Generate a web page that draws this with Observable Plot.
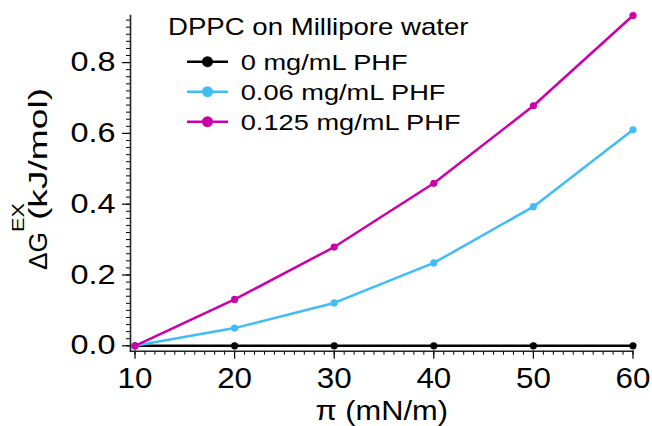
<!DOCTYPE html>
<html><head><meta charset="utf-8">
<script src="https://cdn.jsdelivr.net/npm/d3@7"></script>
<script src="https://cdn.jsdelivr.net/npm/@observablehq/plot@0.6"></script>
<style>body{margin:0;background:#fff}</style>
</head><body><div id="chart"></div>
<script>
// ---- data ----
const pressure = [10, 20, 30, 40, 50, 60];
const seriesNames = ["0 mg/mL PHF", "0.06 mg/mL PHF", "0.125 mg/mL PHF"];
const dG_0 = [0, 0, 0, 0, 0, 0];
const dG_006 = [0, 0.050, 0.121, 0.234, 0.393, 0.610];
const dG_0125 = [0, 0.131, 0.279, 0.459, 0.678, 0.933];
const seriesColors = ["#000000", "#3fbdf7", "#cc00aa"];
const xTicks = [10, 20, 30, 40, 50, 60];
const yTicks = [0, 0.2, 0.4, 0.6, 0.8];
const legendTitle = "DPPC on Millipore water";
const xLabel = "π (mN/m)";
const yLabelMain = "ΔG", yLabelSup = "EX", yLabelUnit = "(kJ/mol)";

const allSeries = [dG_0, dG_006, dG_0125];
const rows = [];
allSeries.forEach((vals, i) => vals.forEach((v, j) => rows.push({series: seriesNames[i], x: pressure[j], y: v})));

const xMinor = d3.range(10, 60.001, 1);
const yMinor = d3.range(0, 0.93, 0.02);
const font = "'Liberation Sans', Arial, Helvetica, sans-serif";

const dataMarks = [];
seriesNames.forEach((s, i) => {
  const d = rows.filter(r => r.series === s);
  dataMarks.push(Plot.line(d, {x: "x", y: "y", stroke: seriesColors[i], strokeWidth: 2.5}));
  dataMarks.push(Plot.dot(d, {x: "x", y: "y", fill: seriesColors[i], r: 3.6}));
});

const plot = Plot.plot({
  width: 652, height: 426,
  marginLeft: 130, marginRight: 19.5, marginTop: 15, marginBottom: 75.3,
  x: {domain: [10, 60], insetLeft: 4.5},
  y: {domain: [0, 0.933], insetBottom: 5.4},
  style: {fontFamily: font, color: "#000", background: "#fff", overflow: "visible"},
  marks: [
    Plot.axisX({ticks: xMinor, tickSize: 4, tickFormat: () => "", label: null, strokeWidth: 1}),
    Plot.axisY({ticks: yMinor, tickSize: 4, tickFormat: () => "", label: null, strokeWidth: 1}),
    Plot.axisX({ticks: xTicks, tickSize: 8, tickPadding: 8, fontSize: 29, tickFormat: d => String(d), label: null, strokeWidth: 1.2}),
    Plot.axisY({ticks: yTicks, tickSize: 8, tickPadding: 7, fontSize: 27, tickFormat: d3.format(".1f"), label: null, strokeWidth: 1.2}),
    Plot.frame({anchor: "left", stroke: "#222", strokeWidth: 1.6}),
    Plot.frame({anchor: "bottom", stroke: "#222", strokeWidth: 1.6}),
    ...dataMarks
  ]
});
document.getElementById("chart").append(plot);

const svg = d3.select(plot);

// widen tick labels to match the reference typeface
function widen(sel, s) {
  sel.each(function () {
    const t = d3.select(this);
    const tr = t.attr("transform") || "";
    const x = t.attr("x"), y = t.attr("y");
    let extra = "";
    if (x != null && !isNaN(+x)) { extra += ` translate(${+x},0)`; t.attr("x", null); }
    if (y != null && !isNaN(+y)) { extra += ` translate(0,${+y})`; t.attr("y", null); }
    t.attr("transform", `${tr}${extra} scale(${s},1)`);
  });
}
widen(svg.selectAll('g[aria-label="y-axis tick label"] text'), 1.2);
widen(svg.selectAll('g[aria-label="x-axis tick label"] text'), 1.08);

function addText(parent, str, x, y, size, sx, anchor) {
  return parent.append("text")
    .attr("transform", `translate(${x},${y}) scale(${sx},1)`)
    .attr("font-size", size).attr("font-family", font)
    .attr("text-anchor", anchor || "start").attr("fill", "#000").text(str);
}

// x label
addText(svg, xLabel, 381.7, 420, 28, 1.1, "middle");

// y label
const yl = svg.append("g").attr("transform", "translate(46.7,270) rotate(-90)")
  .attr("font-family", font).attr("fill", "#000").attr("text-anchor", "start");
yl.append("text").attr("x", 0).attr("y", 0).attr("font-size", 26.5)
  .attr("textLength", 38).attr("lengthAdjust", "spacingAndGlyphs").text(yLabelMain);
yl.append("text").attr("x", 38).attr("y", -22.7).attr("font-size", 17)
  .attr("textLength", 29).attr("lengthAdjust", "spacingAndGlyphs").text(yLabelSup);
yl.append("text").attr("x", 50).attr("y", 0).attr("font-size", 26.5)
  .attr("textLength", 132).attr("lengthAdjust", "spacingAndGlyphs").text(yLabelUnit);

// legend
const lg = svg.append("g").attr("text-anchor", "start");
addText(lg, legendTitle, 168, 35, 23, 1.2);
seriesNames.forEach((s, i) => {
  const cy = 61.7 + 30 * i;
  lg.append("line").attr("x1", 187).attr("x2", 228).attr("y1", cy).attr("y2", cy)
    .attr("stroke", seriesColors[i]).attr("stroke-width", 2.5);
  lg.append("circle").attr("cx", 207.5).attr("cy", cy).attr("r", 5.5).attr("fill", seriesColors[i]);
  addText(lg, s, 240.7, cy + 7.8, 22.5, 1.21);
});
</script>
</body></html>
